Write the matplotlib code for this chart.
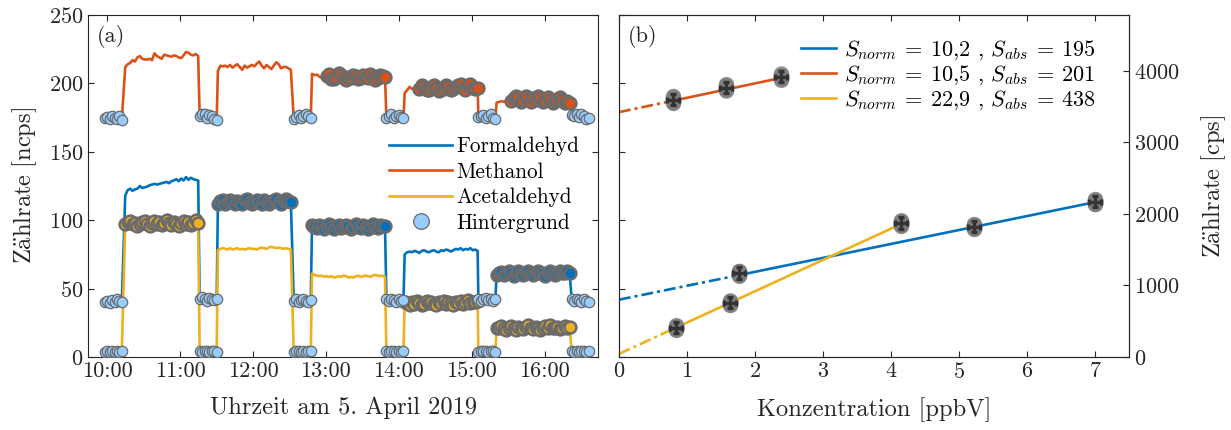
##
## === DEPENDENCIES
##

import matplotlib.pyplot as plt
import numpy

##
## === STYLE
##

plt.rcParams["font.family"] = ["cmr10", "DejaVu Serif"]
plt.rcParams["mathtext.fontset"] = "cm"
plt.rcParams["axes.formatter.use_mathtext"] = True

COLOR_FORM = "#0072BD"
COLOR_METH = "#D95319"
COLOR_ACET = "#EDB120"
COLOR_BG = "#99CCFF"
COLOR_EDGE = "#6B6B6B"
COLOR_AXES = "#262626"

FONT_TICK = 16
FONT_LABEL = 17.6
FONT_LEGEND_A = 15.3
FONT_LEGEND_B = 16

##
## === DATA: time series (ncps), one sample every 2 min
##

SAMPLE_STEP_H = 2.0 / 60.0
BG_START_H = [9.97, 11.27, 12.56, 13.83, 15.09, 16.37]
SIG_START_H = [10.25, 11.52, 12.81, 14.08, 15.34]
TIME_TICKS = [10, 11, 12, 13, 14, 15, 16]
TIME_LABELS = ["10:00", "11:00", "12:00", "13:00", "14:00", "15:00", "16:00"]

FORM_BG = [
    [40, 41, 39.5, 41.5, 40.5, 42, 41, 40],
    [42, 43.5, 42, 41, 43, 42.5, 41.5, 42],
    [41, 42, 40.5, 41.5, 42.5, 41, 40, 41.5],
    [42, 41, 42.5, 41.5, 40.5, 42, 41, 41.5],
    [42.5, 41, 42, 43, 41.5, 42, 41, 42.5],
    [42, 41, 42.5, 41.5, 40.5, 42, 41, 40.5],
]
FORM_SIG = [
    [118, 122, 123, 121.5, 122.5, 123, 125, 123.5, 124, 124.5, 125.5, 126, 126.5, 126, 126.5, 127,
     127.5, 128, 127, 128.5, 129, 130, 128.5, 130.5, 129, 131.5, 129.5, 131, 130, 129.5, 129],
    [112, 114, 114.5, 112, 113, 115, 113, 111.5, 114, 113.5, 112, 114.5, 115.5, 113, 111.5, 113.5,
     115, 113, 112, 114.5, 113, 111.5, 113.5, 115, 115.5, 113, 112, 114, 115.5, 114, 113.5],
    [96.5, 95, 94, 96.5, 95.5, 93.5, 95, 97, 95, 93.5, 95.5, 96.5, 94, 95, 96.5, 95.5,
     93.5, 95, 97, 95, 94, 96.5, 95, 93.5, 95.5, 97, 95, 94, 96.5, 95.5, 96],
    [75, 76.5, 77, 76.5, 77.5, 77, 76, 77.5, 78, 77, 76.5, 77.5, 78, 77, 76.5, 78,
     77.5, 78.5, 78, 77, 78, 79, 78.5, 79.5, 78, 79, 78.5, 79.5, 78, 78.5, 77.5],
    [60, 61.5, 62, 60, 61, 62.5, 61, 59.5, 61.5, 62.5, 61, 60, 61, 62.5, 61.5, 60,
     61, 62.5, 61.5, 61, 59.5, 61.5, 63, 61, 60, 61.5, 62.5, 61, 61.5, 62.5, 61.5],
]

METH_BG = [
    [174.5, 175.5, 174, 176, 175, 174, 176.5, 173.5],
    [176, 177.5, 178, 175, 177, 176.5, 174, 173],
    [174, 175.5, 177, 175, 176.5, 178, 176, 175],
    [175, 176.5, 177.5, 175, 176, 177, 175.5, 174.5],
    [175.5, 176, 177, 175, 176.5, 177.5, 175, 174],
    [177, 176, 178, 175.5, 177.5, 176, 174, 175],
]
METH_SIG = [
    [212, 214, 215, 217, 216, 219, 220, 218, 217.5, 217.5, 218, 217, 222, 220, 219, 218,
     221, 220.5, 220, 219.5, 220.5, 220, 219, 218.5, 220.5, 223, 222.5, 221, 220.5, 221.5, 220],
    [209, 213, 212.5, 213, 212, 213.5, 211.5, 213, 214, 212, 210, 213, 211.5, 212.5, 213.5, 212.5,
     214.5, 216, 213, 211, 213.5, 212, 210.5, 213, 215.5, 214, 211, 212, 212, 211, 210],
    [207, 206, 206.5, 205, 204, 203, 205.5, 207, 203.5, 203, 205, 207.5, 206, 204, 202.5, 205,
     204, 206.5, 205.5, 203, 204, 206.5, 205, 204, 207, 205, 202.5, 204, 206.5, 205.5, 205],
    [193, 195, 197.5, 196, 196, 197, 196, 198.5, 197, 195.5, 195, 197.5, 198.5, 196.5, 194.5, 197,
     196, 198.5, 197.5, 195, 196, 197.5, 199, 199.5, 197, 195.5, 198, 199.5, 197, 196, 197],
    [186, 186.5, 187, 186.5, 187, 186, 187, 189, 190.5, 189, 186.5, 188, 190.5, 188.5, 186.5, 189,
     188, 191, 189, 186.5, 188, 190, 188, 186, 187, 188.5, 190, 188, 186, 187, 186],
]

ACET_BG = [
    [3.5, 4, 3.5, 4.5, 3.5, 4, 3.5, 4],
    [4, 3.5, 4.5, 4, 3.5, 4, 4.5, 3.5],
    [3.5, 4, 4.5, 3.5, 4, 3.5, 4, 4.5],
    [4, 3.5, 4, 4.5, 3.5, 4, 3.5, 4],
    [3.5, 4, 4.5, 4, 3.5, 4, 4.5, 3.5],
    [4, 3.5, 4, 3.5, 4.5, 4, 3.5, 4],
]
ACET_SIG = [
    [97, 98.5, 99.5, 97.5, 98, 96, 97, 98.5, 99.5, 97.5, 95.5, 98, 99.5, 97.5, 98.5, 96.5,
     98, 100, 98, 96.5, 98.5, 97.5, 96, 98, 99.5, 97.5, 98.5, 96.5, 98, 100, 98],
    [78, 79, 79.5, 79, 78.5, 79.5, 78.5, 79, 79.5, 78.5, 79, 78.5, 79, 79.5, 79, 79,
     78.5, 79.5, 80, 79.5, 79, 80, 80.5, 80, 79.5, 80, 79.5, 79, 79.5, 79, 78.5],
    [61, 60, 59.5, 59, 59.5, 58.5, 59, 58.5, 59, 58, 58.5, 59, 58.5, 59.5, 59, 58,
     58.5, 58, 59, 59.5, 58.5, 59, 59.5, 59, 58.5, 59.5, 60, 59.5, 59, 59.5, 58.5],
    [40, 39.5, 38, 40, 39, 41, 39.5, 38, 39, 41, 39.5, 40, 39, 38, 40, 39.5,
     41, 39, 40, 39.5, 38, 40, 39.5, 41, 39, 40, 41.5, 39.5, 40, 40.5, 41],
    [21, 21.5, 22.5, 21, 20, 21.5, 22.5, 21, 20, 22, 21.5, 20.5, 22, 23, 21.5, 20.5,
     22, 21.5, 20, 21, 22.5, 21.5, 23, 21, 21.5, 22, 20.5, 21.5, 22.5, 21.5, 22],
]

## calibration windows: signal segment index and first sample used
FORM_CAL_SEG = [4, 2, 1]
METH_CAL_SEG = [4, 3, 2]
ACET_CAL_SEG = [4, 3, 0]
FORM_CAL_FIRST = [0, 0, 0]
METH_CAL_FIRST = [6, 6, 6]
ACET_CAL_FIRST = [0, 0, 0]

##
## === DATA: calibration (cps vs ppbV)
##

NORM_FACTOR = 19.13  # cps per ncps
FORM_CONC = [1.76, 5.22, 7.00]
METH_CONC = [0.79, 1.57, 2.38]
ACET_CONC = [0.84, 1.63, 4.15]
CONC_ERR = 0.09
COUNT_ERR = 80.0
S_NORM = ["10{,}2", "10{,}5", "22{,}9"]
S_ABS = [195, 201, 438]
FIT_INTERCEPT = [800, 3424, 42]

##
## === FUNCTIONS
##


def segment_times(start, values):
    return start + SAMPLE_STEP_H * numpy.arange(len(values))


def build_series(bg_segments, sig_segments):
    times, values = [], []
    for idx, bg in enumerate(bg_segments):
        times.extend(segment_times(BG_START_H[idx], bg))
        values.extend(bg)
        if idx < len(sig_segments):
            times.extend(segment_times(SIG_START_H[idx], sig_segments[idx]))
            values.extend(sig_segments[idx])
    return numpy.array(times), numpy.array(values)


def style_axes(ax):
    for spine in ax.spines.values():
        spine.set_color(COLOR_AXES)
        spine.set_linewidth(0.8)
    ax.tick_params(direction="in", length=4, width=0.8, colors=COLOR_AXES,
                   labelsize=FONT_TICK, labelcolor=COLOR_AXES)


##
## === MAIN
##


def main() -> None:
    fig = plt.figure(figsize=(12.31, 4.30), dpi=100)
    ax_a = fig.add_axes([0.0715, 0.170, 0.4143, 0.795])
    ax_b = fig.add_axes([0.5028, 0.170, 0.4143, 0.795])

    compounds = [
        ("Formaldehyd", COLOR_FORM, FORM_BG, FORM_SIG, FORM_CAL_SEG, FORM_CAL_FIRST, FORM_CONC),
        ("Methanol", COLOR_METH, METH_BG, METH_SIG, METH_CAL_SEG, METH_CAL_FIRST, METH_CONC),
        ("Acetaldehyd", COLOR_ACET, ACET_BG, ACET_SIG, ACET_CAL_SEG, ACET_CAL_FIRST, ACET_CONC),
    ]

    ## (a) time series
    handles = []
    for name, color, bg, sig, _, _, _ in compounds:
        t, y = build_series(bg, sig)
        (line,) = ax_a.plot(t, y, color=color, lw=1.9, label=name, zorder=2)
        handles.append(line)
    for name, color, bg, sig, cal_seg, cal_first, _ in compounds:
        for seg, first in zip(cal_seg, cal_first):
            t = segment_times(SIG_START_H[seg], sig[seg])
            ax_a.plot(t[first:], sig[seg][first:], "o", ms=8.5, mfc=color, mec=COLOR_EDGE,
                      mew=1.8, zorder=3)
    for name, color, bg, sig, _, _, _ in compounds:
        for idx, seg in enumerate(bg):
            (bg_marker,) = ax_a.plot(segment_times(BG_START_H[idx], seg), seg, "o", ms=7.5,
                                     mfc=COLOR_BG, mec=COLOR_EDGE, mew=0.9, zorder=4,
                                     label="Hintergrund")
    handles.append(bg_marker)

    ax_a.set_xlim(9.74, 16.73)
    ax_a.set_ylim(0, 250)
    ax_a.set_xticks(TIME_TICKS)
    ax_a.set_xticklabels(TIME_LABELS)
    ax_a.set_yticks(numpy.arange(0, 251, 50))
    ax_a.tick_params(top=True, right=True)
    style_axes(ax_a)
    ax_a.set_xlabel("Uhrzeit am 5. April 2019", fontsize=FONT_LABEL, color=COLOR_AXES,
                    labelpad=11)
    ax_a.set_ylabel(r"$\mathrm{Z\ddot{a}hlrate\ [ncps]}$", fontsize=FONT_LABEL,
                    color=COLOR_AXES, labelpad=7)
    ax_a.text(0.018, 0.936, "(a)", transform=ax_a.transAxes, fontsize=FONT_TICK,
              va="center", color=COLOR_AXES)
    ax_a.legend(handles=handles, loc="upper left", bbox_to_anchor=(0.552, 0.70),
                frameon=False, fontsize=FONT_LEGEND_A, handlelength=3.0,
                handletextpad=0.2, labelspacing=0.28, markerscale=1.5)

    ## (b) calibration
    ax_c = ax_b.twinx()
    ax_c.set_position(ax_b.get_position())
    for idx, (name, color, bg, sig, cal_seg, cal_first, conc) in enumerate(compounds):
        conc = numpy.array(conc)
        x_full = numpy.array([conc.min(), conc.max()])
        x_ext = numpy.array([0.0, conc.min()])
        label = rf"$S_{{norm}} \:=\: {S_NORM[idx]}$ , $S_{{abs}} \:=\: {S_ABS[idx]}$"
        ax_c.plot(x_ext, FIT_INTERCEPT[idx] + S_ABS[idx] * x_ext, color=color, lw=1.9,
                  dashes=(4.5, 1.5, 1.2, 1.5), zorder=2)
        ax_c.plot(x_full, FIT_INTERCEPT[idx] + S_ABS[idx] * x_full, color=color, lw=1.9,
                  label=label, zorder=2)
    for name, color, bg, sig, cal_seg, cal_first, conc in compounds:
        for x, seg, first in zip(conc, cal_seg, cal_first):
            counts = numpy.array(sig[seg][first:]) * NORM_FACTOR
            ax_c.plot(numpy.full(counts.size, x), counts, "o", ms=11, color="#7F7F7F",
                      alpha=0.45, mew=0, zorder=3)
            ax_c.errorbar(x, counts.mean(), xerr=CONC_ERR, yerr=COUNT_ERR, fmt="none",
                          ecolor="#333333", elinewidth=2.4, capsize=2.5, capthick=2.4,
                          zorder=4)

    ax_b.set_xlim(0, 7.5)
    ax_b.set_ylim(0, 250)
    ax_c.set_ylim(0, 250 * NORM_FACTOR)
    ax_b.set_xticks(numpy.arange(0, 8, 1))
    ax_b.set_yticks(numpy.arange(0, 251, 50))
    ax_c.set_yticks(numpy.arange(0, 4001, 1000))
    style_axes(ax_b)
    style_axes(ax_c)
    ax_b.tick_params(top=True, right=False, labelleft=False)
    ax_c.tick_params(left=False, right=True)
    ax_b.set_xlabel("Konzentration [ppbV]", fontsize=FONT_LABEL, color=COLOR_AXES,
                    labelpad=11)
    ax_c.set_ylabel(r"$\mathrm{Z\ddot{a}hlrate\ [cps]}$", fontsize=FONT_LABEL,
                    color=COLOR_AXES, labelpad=14)
    ax_b.text(0.018, 0.936, "(b)", transform=ax_b.transAxes, fontsize=FONT_TICK,
              va="center", color=COLOR_AXES)
    ax_c.legend(loc="upper right", bbox_to_anchor=(0.975, 0.99), frameon=False,
                fontsize=FONT_LEGEND_B, handlelength=1.6, handletextpad=0.35,
                labelspacing=0.05)

    fig.savefig("out.png", dpi=100)


if __name__ == "__main__":
    main()
